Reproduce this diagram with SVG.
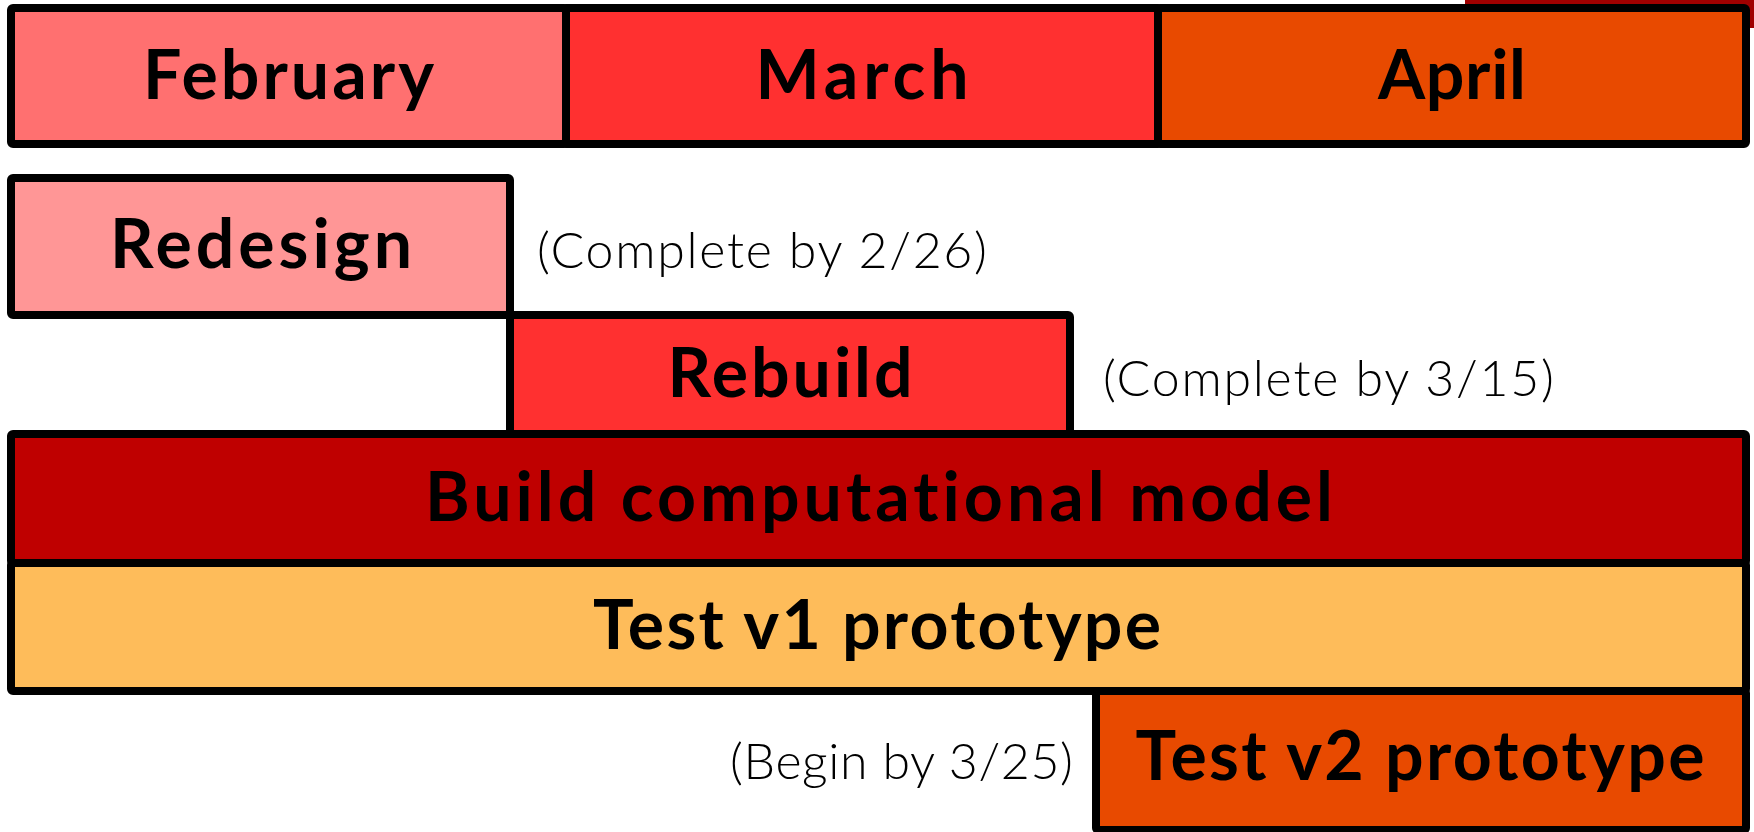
<svg xmlns="http://www.w3.org/2000/svg" width="1754" height="832" viewBox="0 0 1754 832">
<style>
.box{stroke:#000;stroke-width:8;stroke-linejoin:round}
.b{font-family:Lato,"Liberation Sans",sans-serif;font-weight:700;font-size:68px;fill:#000;text-anchor:middle;font-variant-ligatures:none}
.l{font-family:Lato,"Liberation Sans",sans-serif;font-weight:300;font-size:50px;fill:#000;font-variant-ligatures:none}
</style>
<rect width="1754" height="832" fill="#fff"/>
<rect x="1465" y="-10" width="300" height="38" fill="#a00000"/>
<g id="months">
<g id="february"><rect class="box" x="11" y="8" width="555" height="136" rx="2" fill="#ff7070"/><text class="b" x="288.5" y="99" textLength="291">February</text></g>
<g id="march"><rect class="box" x="566" y="8" width="592" height="136" fill="#ff3030"/><text class="b" x="862" y="99" textLength="213">March</text></g>
<g id="april"><rect class="box" x="1158" y="8" width="588" height="136" rx="2" fill="#e84a00"/><text class="b" x="1452" y="99" textLength="148">April</text></g>
</g>
<g id="redesign"><rect class="box" x="11" y="178" width="499" height="137" rx="2" fill="#ff9696"/><text class="b" x="261" y="268" textLength="302">Redesign</text></g>
<g id="rebuild"><rect class="box" x="510" y="315" width="560" height="119" rx="2" fill="#ff3030"/><text class="b" x="790" y="397" textLength="245">Rebuild</text></g>
<g id="build"><rect class="box" x="11" y="434" width="1735" height="129" rx="2" fill="#bf0000"/><text class="b" x="879" y="521" textLength="908">Build computational model</text></g>
<g id="testv1"><rect class="box" x="11" y="563" width="1735" height="128" rx="2" fill="#febc5a"/><text class="b" x="877" y="649" textLength="568">Test v1 prototype</text></g>
<g id="testv2"><rect class="box" x="1096" y="691" width="650" height="139" rx="2" fill="#e84a00"/><text class="b" x="1420" y="780" textLength="569">Test v2 prototype</text></g>
<g id="labels">
<text class="l" x="537" y="268" textLength="450">(Complete by 2/26)</text>
<text class="l" x="1103" y="396" textLength="451">(Complete by 3/15)</text>
<text class="l" x="730" y="779" textLength="343">(Begin by 3/25)</text>
</g>
<g id="connectors"></g>
</svg>
